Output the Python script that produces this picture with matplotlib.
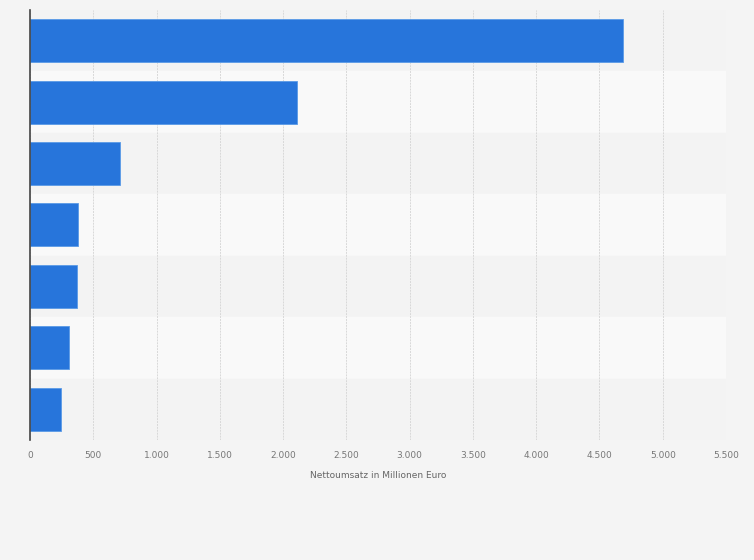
import matplotlib
matplotlib.use("Agg")
import matplotlib.pyplot as plt
from matplotlib.ticker import FuncFormatter

# Werte (Millionen Euro), von oben nach unten
values = [4690, 2110, 712, 380, 372, 308, 245]
ticks = [0, 500, 1000, 1500, 2000, 2500, 3000, 3500, 4000, 4500, 5000, 5500]

BG = "#f4f4f4"
fig = plt.figure(figsize=(7.54, 5.60), dpi=100, facecolor=BG)
ax = fig.add_axes([30 / 754, 1 - 440 / 560, 696 / 754, 430 / 560])
ax.set_facecolor(BG)

n = len(values)
ys = list(range(n))
for i in ys:
    ax.axhspan(i - 0.5, i + 0.5, color="#f3f3f3" if i % 2 == 0 else "#f9f9f9", zorder=0)

ax.barh(ys, values, height=0.7, color="#2775db", edgecolor="#5a9ae6", linewidth=0.6, zorder=3)
ax.set_ylim(n - 0.5, -0.5)
ax.set_xlim(0, 5500)
ax.set_yticks([])
ax.set_xticks(ticks)
ax.xaxis.set_major_formatter(FuncFormatter(lambda v, p: f"{int(v):,}".replace(",", ".")))
ax.tick_params(axis="x", length=0, labelsize=6.5, colors="#777777", pad=8)
ax.grid(axis="x", color="#d8d8d8", linestyle=(0, (2, 1)), linewidth=0.7, zorder=1)
for s in ["top", "right", "bottom"]:
    ax.spines[s].set_visible(False)
ax.spines["left"].set_color("#444444")
ax.spines["left"].set_linewidth(1.2)
ax.spines["left"].set_zorder(4)
ax.set_xlabel("Nettoumsatz in Millionen Euro", fontsize=6.5, color="#666666", labelpad=8)

fig.savefig("out.png", dpi=100, facecolor=BG)
